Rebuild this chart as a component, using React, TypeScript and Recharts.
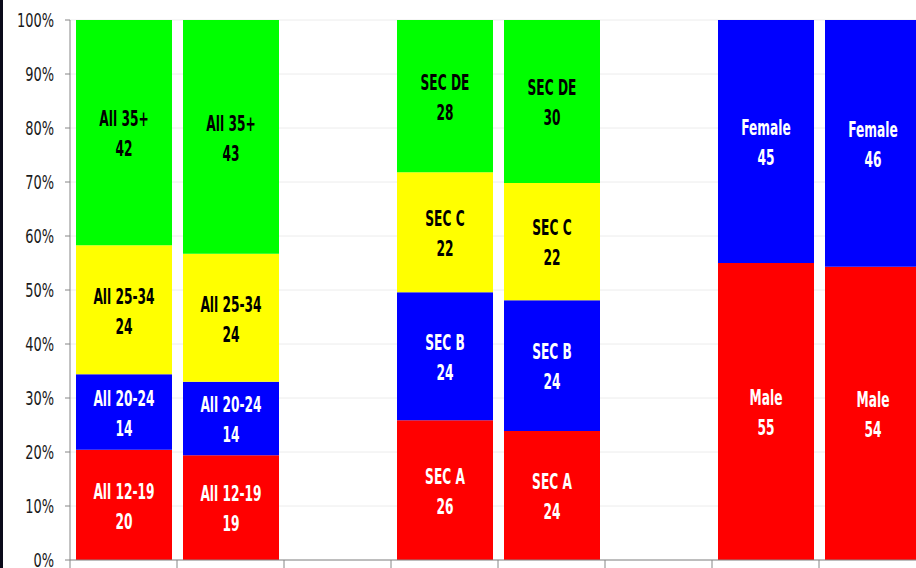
import React from "react";
import {
  BarChart,
  Bar,
  XAxis,
  YAxis,
  CartesianGrid,
  LabelList,
} from "recharts";

// three groups of two bars (age, SEC, gender), blank slots between groups
const categories = ["Age A", "Age B", "", "SEC A", "SEC B", "", "Gender A", "Gender B"];

const redValues = [20.4, 19.4, null, 25.9, 23.9, null, 55.0, 54.3];
const blueValues = [14.0, 13.6, null, 23.7, 24.2, null, 45.0, 45.7];
const yellowValues = [23.9, 23.7, null, 22.2, 21.7, null, null, null];
const greenValues = [41.7, 43.3, null, 28.2, 30.2, null, null, null];

const redNames = ["All 12-19", "All 12-19", "", "SEC A", "SEC A", "", "Male", "Male"];
const blueNames = ["All 20-24", "All 20-24", "", "SEC B", "SEC B", "", "Female", "Female"];
const yellowNames = ["All 25-34", "All 25-34", "", "SEC C", "SEC C", "", "", ""];
const greenNames = ["All 35+", "All 35+", "", "SEC DE", "SEC DE", "", "", ""];

const yTicks = [0, 10, 20, 30, 40, 50, 60, 70, 80, 90, 100];

const data = categories.map((name, i) => ({
  name,
  red: redValues[i],
  blue: blueValues[i],
  yellow: yellowValues[i],
  green: greenValues[i],
  redName: redNames[i],
  blueName: blueNames[i],
  yellowName: yellowNames[i],
  greenName: greenNames[i],
}));

const FONT = "'Liberation Sans Narrow', 'DejaVu Sans Condensed', 'Arial Narrow', sans-serif";
const CHART_W = 926;
const Y_W = 70;
const BAND = (CHART_W - Y_W) / categories.length;

// label text = "name|value", so the segment name travels with the data row
const labelKey = (key: string) => (d: any) =>
  d[key] == null ? "" : `${d[key + "Name"]}|${Math.round(d[key])}`;

function makeLabel(color: string) {
  return (props: any) => {
    const { x, y, width, height, value } = props;
    if (!value) return null;
    const [name, num] = String(value).split("|");
    const cx = x + width / 2;
    const cy = y + height / 2;
    // the original font is tall and narrow (Calibri-like), so squeeze it
    const common = {
      x: 0,
      y: 0,
      textAnchor: "middle" as const,
      dominantBaseline: "central" as const,
      fill: color,
      fontFamily: FONT,
      fontWeight: "bold",
      fontSize: 16,
    };
    return (
      <g>
        <text transform={`translate(${cx},${cy - 14}) scale(0.85,1.38)`} {...common}>
          {name}
        </text>
        <text transform={`translate(${cx},${cy + 16}) scale(0.85,1.38)`} {...common}>
          {num}
        </text>
      </g>
    );
  };
}

const PercentTick = (props: any) => {
  const { x, y, payload } = props;
  return (
    <text
      transform={`translate(${x},${y}) scale(0.9,1.2)`}
      x={0}
      y={0}
      textAnchor="end"
      dominantBaseline="central"
      fill="#1a1a1a"
      fontFamily={FONT}
      fontSize={16}
    >
      {`${payload.value}%`}
    </text>
  );
};

// tick marks sit on category boundaries, not centres
const BoundaryTick = (props: any) => {
  const { x, y } = props;
  const bx = x - BAND / 2;
  return <line x1={bx} y1={y} x2={bx} y2={y + 8} stroke="#868686" strokeWidth={1} />;
};

export default function App() {
  return (
    <div
      style={{
        position: "absolute",
        left: 0,
        top: 0,
        width: 916,
        height: 568,
        overflow: "hidden",
        background: "#fff",
      }}
    >
      <BarChart
        width={CHART_W}
        height={568}
        data={data}
        margin={{ top: 20, right: 0, left: 0, bottom: 0 }}
        barSize={96}
      >
        <CartesianGrid vertical={false} stroke="#ececec" />
        <XAxis
          dataKey="name"
          height={8}
          axisLine={{ stroke: "#868686" }}
          tickLine={false}
          tickSize={0}
          tickMargin={0}
          interval={0}
          tick={<BoundaryTick />}
        />
        <YAxis
          width={Y_W}
          domain={[0, 100]}
          ticks={yTicks}
          interval={0}
          axisLine={{ stroke: "#868686" }}
          tickLine={{ stroke: "#868686" }}
          tickSize={5}
          tickMargin={11}
          tick={<PercentTick />}
        />
        <Bar dataKey="red" stackId="s" fill="#ff0000" isAnimationActive={false}>
          <LabelList dataKey={labelKey("red")} content={makeLabel("#ffffff")} />
        </Bar>
        <Bar dataKey="blue" stackId="s" fill="#0000ff" isAnimationActive={false}>
          <LabelList dataKey={labelKey("blue")} content={makeLabel("#ffffff")} />
        </Bar>
        <Bar dataKey="yellow" stackId="s" fill="#ffff00" isAnimationActive={false}>
          <LabelList dataKey={labelKey("yellow")} content={makeLabel("#000000")} />
        </Bar>
        <Bar dataKey="green" stackId="s" fill="#00ff00" isAnimationActive={false}>
          <LabelList dataKey={labelKey("green")} content={makeLabel("#000000")} />
        </Bar>
      </BarChart>
      <div
        style={{
          position: "absolute",
          left: 0,
          top: 0,
          width: 3,
          height: 568,
          background: "#0a0a1a",
        }}
      />
    </div>
  );
}
